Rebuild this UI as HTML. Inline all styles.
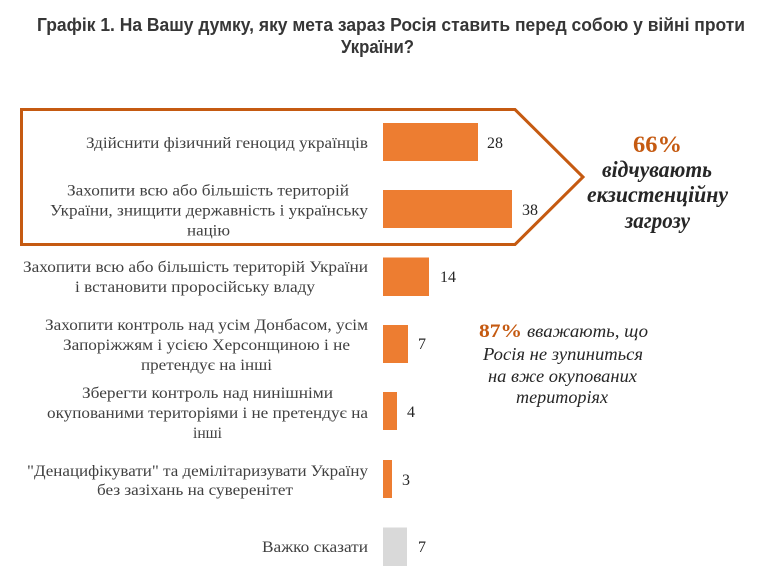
<!DOCTYPE html>
<html>
<head>
<meta charset="utf-8">
<style>
  html,body{margin:0;padding:0;background:#fff;}
  svg{display:block;}
  .t{font-family:"Liberation Sans","Noto Sans CJK SC",sans-serif;font-weight:bold;font-size:18px;fill:#363636;}
  .l{font-family:"Liberation Serif","Noto Serif CJK SC",serif;font-size:16px;fill:#404040;}
  .v{font-family:"Liberation Serif","Noto Serif CJK SC",serif;font-size:16px;fill:#262626;}
  .big{font-family:"Liberation Serif",serif;font-weight:bold;fill:#C55A11;}
  .bi{font-family:"Liberation Serif",serif;font-weight:bold;font-style:italic;font-size:23px;fill:#262626;}
  .it{font-family:"Liberation Serif",serif;font-style:italic;font-size:18px;fill:#262626;}
</style>
</head>
<body>
<svg width="764" height="573" viewBox="0 0 764 573" xmlns="http://www.w3.org/2000/svg">
  <rect width="764" height="573" fill="#fff"/>
  <!-- Title -->
  <text class="t" x="37" y="31" textLength="708" lengthAdjust="spacingAndGlyphs">Графік 1. На Вашу думку, яку мета зараз Росія ставить перед собою у війні проти</text>
  <text class="t" x="341" y="53" textLength="73" lengthAdjust="spacingAndGlyphs">України?</text>

  <!-- Arrow shape -->
  <polygon points="21.5,109.5 515,109.5 583,177 515,244.5 21.5,244.5" fill="none" stroke="#C55A11" stroke-width="3"/>

  <!-- Bars -->
  <rect x="383" y="123" width="95" height="38" fill="#ED7D31"/>
  <rect x="383" y="190" width="129" height="38" fill="#ED7D31"/>
  <rect x="383" y="257.5" width="46" height="38.5" fill="#ED7D31"/>
  <rect x="383" y="325" width="25" height="38" fill="#ED7D31"/>
  <rect x="383" y="392" width="14" height="38" fill="#ED7D31"/>
  <rect x="383" y="460" width="9" height="38" fill="#ED7D31"/>
  <rect x="383" y="527.5" width="24" height="38.5" fill="#D9D9D9"/>

  <!-- Values -->
  <text class="v" x="487" y="148">28</text>
  <text class="v" x="522" y="215">38</text>
  <text class="v" x="440" y="282">14</text>
  <text class="v" x="418" y="349">7</text>
  <text class="v" x="407" y="417">4</text>
  <text class="v" x="402" y="485">3</text>
  <text class="v" x="418" y="552">7</text>

  <!-- Labels -->
  <text class="l" x="86" y="148" textLength="282" lengthAdjust="spacingAndGlyphs">Здійснити фізичний геноцид українців</text>

  <text class="l" x="67" y="195.5" textLength="282" lengthAdjust="spacingAndGlyphs">Захопити всю або більшість територій</text>
  <text class="l" x="50" y="215.5" textLength="318" lengthAdjust="spacingAndGlyphs">України, знищити державність і українську</text>
  <text class="l" x="187" y="235.5" textLength="43" lengthAdjust="spacingAndGlyphs">націю</text>

  <text class="l" x="23" y="272" textLength="345" lengthAdjust="spacingAndGlyphs">Захопити всю або більшість територій України</text>
  <text class="l" x="75" y="292" textLength="240" lengthAdjust="spacingAndGlyphs">і встановити проросійську владу</text>

  <text class="l" x="45" y="330" textLength="323" lengthAdjust="spacingAndGlyphs">Захопити контроль над усім Донбасом, усім</text>
  <text class="l" x="63" y="350" textLength="287" lengthAdjust="spacingAndGlyphs">Запоріжжям і усією Херсонщиною і не</text>
  <text class="l" x="141" y="370" textLength="131" lengthAdjust="spacingAndGlyphs">претендує на інші</text>

  <text class="l" x="82" y="398" textLength="251" lengthAdjust="spacingAndGlyphs">Зберегти контроль над нинішніми</text>
  <text class="l" x="47" y="418" textLength="321" lengthAdjust="spacingAndGlyphs">окупованими територіями і не претендує на</text>
  <text class="l" x="193" y="438" textLength="29" lengthAdjust="spacingAndGlyphs">інші</text>

  <text class="l" x="27" y="476" textLength="341" lengthAdjust="spacingAndGlyphs">"Денацифікувати" та демілітаризувати Україну</text>
  <text class="l" x="97" y="495" textLength="196" lengthAdjust="spacingAndGlyphs">без зазіхань на суверенітет</text>

  <text class="l" x="262" y="552" textLength="106" lengthAdjust="spacingAndGlyphs">Важко сказати</text>

  <!-- 66% annotation -->
  <text class="big" x="633" y="152" font-size="23" textLength="49" lengthAdjust="spacingAndGlyphs">66%</text>
  <text class="bi" x="602" y="177" textLength="110" lengthAdjust="spacingAndGlyphs">відчувають</text>
  <text class="bi" x="587" y="202" textLength="141" lengthAdjust="spacingAndGlyphs">екзистенційну</text>
  <text class="bi" x="625" y="228" textLength="65" lengthAdjust="spacingAndGlyphs">загрозу</text>

  <!-- 87% annotation -->
  <text class="big" x="479" y="337" font-size="19" textLength="43" lengthAdjust="spacingAndGlyphs">87%</text>
  <text class="it" x="527" y="337" textLength="121" lengthAdjust="spacingAndGlyphs">вважають, що</text>
  <text class="it" x="483" y="360" textLength="160" lengthAdjust="spacingAndGlyphs">Росія не зупиниться</text>
  <text class="it" x="488" y="382" textLength="149" lengthAdjust="spacingAndGlyphs">на вже окупованих</text>
  <text class="it" x="516" y="403" textLength="92" lengthAdjust="spacingAndGlyphs">територіях</text>
</svg>
</body>
</html>
